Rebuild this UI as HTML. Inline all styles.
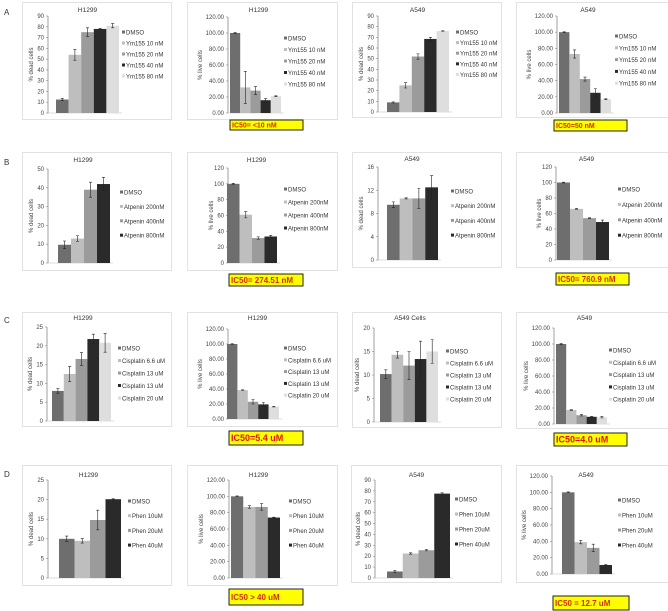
<!DOCTYPE html>
<html><head><meta charset="utf-8">
<style>
html,body{margin:0;padding:0;background:#fff;}
svg{display:block;font-family:"Liberation Sans",Arial,sans-serif;}
</style></head>
<body>
<svg id="fig" width="668" height="611" viewBox="0 0 668 611">
<text x="4" y="15" font-size="8" fill="#333">A</text>
<text x="4" y="165" font-size="8" fill="#333">B</text>
<text x="4" y="323" font-size="8" fill="#333">C</text>
<text x="4" y="477" font-size="8" fill="#333">D</text>
</svg>
<script>
const ymLabels = ["DMSO","Ym155 10 nM","Ym155 20 nM","Ym155 40 nM","Ym155 80 nM"];
const atLabels = ["DMSO","Atpenin 200nM","Atpenin 400nM","Atpenin 800nM"];
const ciLabels = ["DMSO","Cisplatin 6.6 uM","Cisplatin 13 uM","Cisplatin 13 uM","Cisplatin 20 uM"];
const phLabels = ["DMSO","Phen 10uM","Phen 20uM","Phen 40uM"];

const a1Values = [12.5,54,75,78,81];   const a1Errors = [1,5,4,0.5,2];
const a2Values = [100,32,28,16,21];    const a2Errors = [0.5,20,5,2,0.5];
const a3Values = [9,25,52,68.5,76];    const a3Errors = [0.5,2.5,2.5,1.5,0.3];
const a4Values = [100,73,42,25,17];    const a4Errors = [0.5,5,2.5,5,0.5];
const b1Values = [9.7,13,39,42];       const b1Errors = [2,1.5,4,3.5];
const b2Values = [100,61,31.5,33.5];   const b2Errors = [0.5,4,1.5,1.5];
const b3Values = [9.5,10.6,10.6,12.5]; const b3Errors = [0.5,0.1,1.7,2];
const b4Values = [100,66,54,49];       const b4Errors = [0.5,0.5,0.5,2.5];
const c1Values = [8,12.5,16.5,21.8,20.8]; const c1Errors = [0.6,2,1.7,1.3,2.5];
const c2Values = [100,38.5,23,19.5,16.5]; const c2Errors = [0.5,0.5,3,2.5,0.5];
const c3Values = [10.2,14.3,12,13.4,15];  const c3Errors = [0.9,0.7,3,3.8,2.5];
const c4Values = [100,17.5,11,9,8.5];     const c4Errors = [0.5,0.4,1,0.5,1];
const d1Values = [10,9.5,14.8,20.1];   const d1Errors = [0.7,0.6,2.5,0.1];
const d2Values = [100,87,87,74];       const d2Errors = [0.5,1.5,4,0.5];
const d3Values = [6,22.5,25.5,77.5];   const d3Errors = [0.8,0.6,0.6,0.7];
const d4Values = [100,39,32,11];       const d4Errors = [0.5,2,4.5,0.5];

const barColors = ["#6e6e6e","#bebebe","#9b9b9b","#2a2a2a","#dedede"];
const NS = "http://www.w3.org/2000/svg";
const svg = document.getElementById('fig');

const charts = [
 {id:"a1",box:[22,2,149,117],title:"H1299",ty:12,ax:48,yT:16,yB:113,max:90,step:10,dec:0,b0:56,b1:119,lx:122,ly0:33,ld:11,labels:ymLabels,v:a1Values,e:a1Errors,yt:"% dead cells"},
 {id:"a2",box:[187,2,150,117],title:"H1299",ty:12,ax:228,yT:17,yB:113,max:120,step:20,dec:2,b0:230,b1:281,lx:284,ly0:39,ld:11.5,labels:ymLabels,v:a2Values,e:a2Errors,yt:"% live cells",ic:[230,120,73,10,"IC50= <10 nM",7,"#d03000"]},
 {id:"a3",box:[352,2,149,115],title:"A549",ty:12,ax:378,yT:16,yB:112,max:90,step:10,dec:0,b0:387,b1:449,lx:456,ly0:33,ld:10.6,labels:ymLabels,v:a3Values,e:a3Errors,yt:"% dead cells"},
 {id:"a4",box:[516,2,152,115],title:"A549",ty:12,ax:557,yT:16,yB:113,max:120,step:20,dec:2,b0:559,b1:611,lx:615,ly0:37,ld:11.8,labels:ymLabels,v:a4Values,e:a4Errors,yt:"% live cells",ic:[554,120,73,11,"IC50=50 nM",7,"#d03000"]},
 {id:"b1",box:[22,152,149,118],title:"H1299",ty:162,ax:48,yT:169,yB:263,max:50,step:10,dec:0,b0:58,b1:110,lx:120,ly0:193,ld:14.4,labels:atLabels,v:b1Values,e:b1Errors,yt:"% dead cells"},
 {id:"b2",box:[187,152,150,118],title:"H1299",ty:162,ax:228,yT:168,yB:263,max:120,step:20,dec:0,b0:227,b1:277,lx:284,ly0:190,ld:13,labels:atLabels,v:b2Values,e:b2Errors,yt:"% live cells",ic:[229,274,74,12,"IC50= 274.51 nM",8,"#d03000"]},
 {id:"b3",box:[352,152,149,115],title:"A549",ty:161,ax:378,yT:167,yB:260,max:16,step:4,dec:0,b0:387,b1:438,lx:451,ly0:192,ld:14.7,labels:atLabels,v:b3Values,e:b3Errors,yt:"% dead cells"},
 {id:"b4",box:[516,152,152,115],title:"A549",ty:161,ax:556,yT:167,yB:260,max:120,step:20,dec:0,b0:557,b1:609,lx:618,ly0:190,ld:15.4,labels:atLabels,v:b4Values,e:b4Errors,yt:"% live cells",ic:[556,273,73,12,"IC50= 760.9 nM",8,"#d03000"]},
 {id:"c1",box:[22,312,149,114],title:"H1299",ty:320,ax:47,yT:327,yB:421,max:25,step:5,dec:0,b0:52,b1:111,lx:118,ly0:349,ld:12.5,labels:ciLabels,v:c1Values,e:c1Errors,yt:"% dead cells"},
 {id:"c2",box:[187,312,150,114],title:"H1299",ty:320,ax:228,yT:329,yB:419,max:120,step:20,dec:2,b0:227,b1:279,lx:284,ly0:349,ld:11.8,labels:ciLabels,v:c2Values,e:c2Errors,yt:"% live cells",ic:[229,431,74,14,"IC50=5.4 uM",9,"#e01010"]},
 {id:"c3",box:[352,312,149,115],title:"A549 Cells",ty:320,ax:374,yT:328,yB:422,max:20,step:5,dec:0,b0:380,b1:438,lx:446,ly0:352,ld:12,labels:ciLabels,v:c3Values,e:c3Errors,yt:"% dead cells"},
 {id:"c4",box:[516,312,152,116],title:"A549",ty:320,ax:554,yT:328,yB:424,max:120,step:20,dec:2,b0:556,b1:607,lx:609,ly0:351,ld:12.3,labels:ciLabels,v:c4Values,e:c4Errors,yt:"% live cells",ic:[554,433,73,13,"IC50=4.0 uM",9,"#e01010"]},
 {id:"d1",box:[22,465,149,120],title:"H1299",ty:477,ax:48,yT:480,yB:578,max:25,step:5,dec:0,b0:59,b1:121,lx:128,ly0:502,ld:14.7,labels:phLabels,v:d1Values,e:d1Errors,yt:"% dead cells"},
 {id:"d2",box:[187,465,150,120],title:"H1299",ty:477,ax:229,yT:480,yB:578,max:120,step:20,dec:2,b0:231,b1:280,lx:289,ly0:502,ld:14.7,labels:phLabels,v:d2Values,e:d2Errors,yt:"% live cells",ic:[229,589,74,16,"IC50 > 40 uM",8,"#d03000"]},
 {id:"d3",box:[351,465,150,117],title:"A549",ty:477,ax:375,yT:480,yB:578,max:90,step:10,dec:0,b0:387,b1:450,lx:455,ly0:500,ld:15,labels:phLabels,v:d3Values,e:d3Errors,yt:"% dead cells"},
 {id:"d4",box:[516,465,152,117],title:"A549",ty:477,ax:552,yT:476,yB:574,max:120,step:20,dec:2,b0:562,b1:612,lx:618,ly0:501,ld:15,labels:phLabels,v:d4Values,e:d4Errors,yt:"% live cells",ic:[553,596,76,14,"IC50 = 12.7  uM",8,"#d03000"]}
];

function mk(tag, attrs, parent){
  const el = document.createElementNS(NS, tag);
  for (const k in attrs) el.setAttribute(k, attrs[k]);
  parent.appendChild(el);
  return el;
}

charts.forEach(c => {
  const g = mk('g', {}, svg);
  
  
  const [bx,by,bw,bh] = c.box;
  const frame = mk('rect', {x:bx+0.5,y:by+0.5,width:bw,height:bh,fill:"#fff",stroke:"#e2e2e2","stroke-width":1}, g);
  
  
  const yScale = v => c.yB - (v / c.max) * (c.yB - c.yT);
  const n = c.v.length;
  const bwid = (c.b1 - c.b0) / n;
  const xScale = i => c.b0 + i * bwid;
  // title
  const t = mk('text', {x:(c.ax + c.b1)/2 + 4, y:c.ty, "font-size":6.5, fill:"#333","text-anchor":"middle"}, g);
  t.textContent = c.title;
  
  
  // axis
  const axis = mk('line', {x1:c.ax,y1:c.yT,x2:c.ax,y2:c.yB,stroke:"#888","stroke-width":0.8}, g);
  
  
  const base = mk('line', {x1:c.ax,y1:c.yB,x2:c.b1+3,y2:c.yB,stroke:"#bbb","stroke-width":0.6}, g);
  
  
  for (let v = 0; v <= c.max + 1e-9; v += c.step) {
    const y = yScale(v);
    mk('line', {x1:c.ax-2,y1:y,x2:c.ax,y2:y,stroke:"#888","stroke-width":0.6}, g);
    const tl = mk('text', {x:c.ax-4,y:y+2,"font-size":6,fill:"#444","text-anchor":"end"}, g);
    tl.textContent = v.toFixed(c.dec);
    
    
  }
  const yMid = (c.yT + c.yB) / 2;
  const ytx = c.dec === 2 ? c.ax - 26 : c.ax - 15;
  const yt = mk('text', {x:ytx,y:yMid,"font-size":6,fill:"#444","text-anchor":"middle",transform:`rotate(-90 ${ytx} ${yMid})`}, g);
  yt.textContent = c.yt;
  
  
  // bars
  c.v.forEach((v, i) => {
    const x = xScale(i), y = yScale(v);
    const r = mk('rect', {x:x,y:y,width:bwid,height:c.yB - y,fill:barColors[i]}, g);
    
    
    const cx = x + bwid/2, e = c.e[i];
    const y1 = yScale(v + e), y2 = yScale(v - e);
    const eb = mk('path', {d:`M${cx},${y1}V${y2}M${cx-1.5},${y1}H${cx+1.5}M${cx-1.5},${y2}H${cx+1.5}`,stroke:"#222","stroke-width":0.6,fill:"none"}, g);
    
    
  });
  // legend
  c.labels.forEach((lab, i) => {
    const ly = c.ly0 + i * c.ld;
    const m = mk('rect', {x:c.lx,y:ly-2.5,width:3,height:3,fill:barColors[i]}, g);
    
    
    const lt = mk('text', {x:c.lx+4,y:ly+1.5,"font-size":6,fill:"#333"}, g);
    lt.textContent = lab;
    
    
  });
  if (c.ic) {
    const [ix,iy,iw,ih,txt,fs,col] = c.ic;
    const ib = mk('rect', {x:ix,y:iy,width:iw,height:ih,fill:"#ffff00",stroke:"#222","stroke-width":1}, g);
    
    
    const it = mk('text', {x:ix+2,y:iy+ih/2+fs*0.36,"font-size":fs,"font-weight":"bold",fill:col}, g);
    it.textContent = txt;
    
    
  }
});
</script>
</body></html>
